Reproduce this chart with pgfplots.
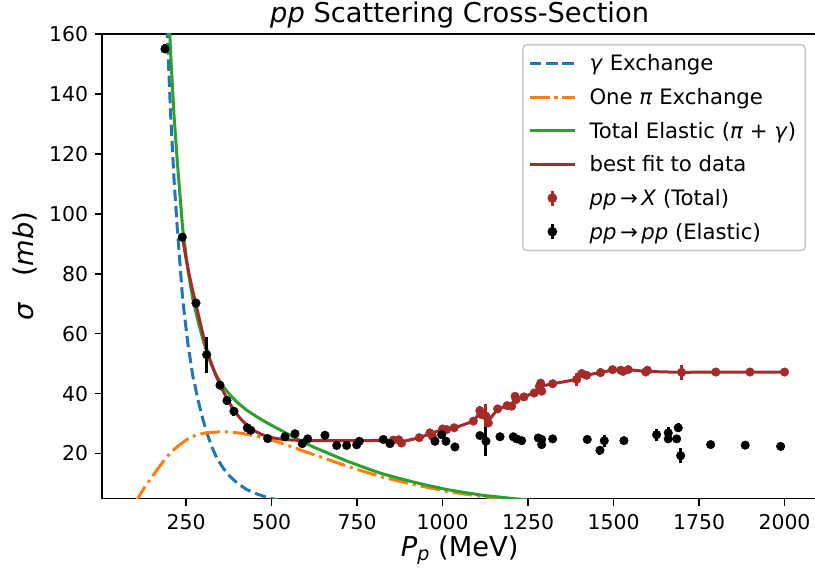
\documentclass[border=0pt]{standalone}
\usepackage{pgfplots}
\pgfplotsset{compat=1.18}
\usepackage{pgfplotstable}
\usepackage{fontspec}
\setmainfont{DejaVu Sans}
\definecolor{mplblue}{HTML}{1F77B4}
\definecolor{mplorange}{HTML}{FF7F0E}
\definecolor{mplgreen}{HTML}{2CA02C}
\definecolor{mplbrown}{HTML}{A52A2A}
\newcommand\lstrut{\rule[-4.5bp]{0pt}{20bp}}
\newcommand\lbox{\path[use as bounding box, draw=none, fill=none] (0bp,-8bp) rectangle (45bp,8bp);}

\pgfplotstableread{
x y
185 195
195 160
205 132.7
215 111
224.3 95.2
240 71.5
255 56.8
270 45.7
285.7 37.5
300 31.1
310 27.2
325 22.3
339.5 18.6
360 14.9
378 12.4
400 10.1
427 8.0
455 6.6
486 5.4
510 4.7
540 4.0
}\gammadata

\pgfplotstableread{
x y
100 3.4
110 5.2
125 8.1
144.5 11.3
160 13.7
183.4 17.4
205 20.4
232 23.0
255 24.9
281 26.3
310 26.9
344 27.2
378 27.2
415 26.7
456 25.8
490 24.8
525 23.6
570 21.8
622 19.7
670 17.8
720 15.8
770 14.0
817 12.4
865 11.0
914.5 9.7
960 8.6
1012 7.4
1065 6.5
1119 5.6
1180 4.9
1250 4.2
1350 3.4
}\pidata

\pgfplotstableread{
x y
185 212.6
195 179
205 153.1
215 132.4
224.3 117.5
240 95.1
255 81.7
270 71.4
285.7 63.9
300 57.8
310 54.1
325 49.35
339.5 45.8
360 42.15
378 39.6
400 37.05
427 34.5
455 32.4
486 30.3
510 28.8
540 27.0
570 25.15
622 22.2
670 19.9
720 17.5
770 15.4
817 13.5
865 11.96
914.5 10.5
960 9.3
1012 8.0
1065 7.0
1119 6.05
1180 5.3
1250 4.5
1350 3.7
}\totaldata

\pgfplotstableread{
x y
239 92.2
250 85
260 79.2
270 74
279 69.8
290 64.3
300 59.5
310 55.0
320 51.3
335 46.7
350 42.7
370 38.2
390 34.4
410 31.5
430 29.2
450 27.6
470 26.4
490 25.6
515 25.0
540 24.6
580 24.4
650 24.3
750 24.3
830 24.4
856 24.5
872 24.5
880 23.9
932 25.3
963 26.6
1000 28.0
1034 28.5
1090 30.8
1109 33.6
1127 32.2
1134 31.0
1161 34.7
1189 36.0
1202 36.2
1212 38.5
1238 38.9
1268 40.3
1285 42.4
1322 43.3
1392 44.7
1407 46.5
1421 46.2
1462 47.0
1497 47.9
1521 47.8
1543 48.0
1595 47.4
1699 47.1
1799 47.2
1899 47.2
2000 47.2
}\fitdata

\pgfplotstableread{
x y e
856 24.5 0.5
872 24.6 0.5
880 23.5 0.5
932 25.3 0.5
963 26.9 0.5
970 25.8 0.5
1000 28.2 0.5
1012 28.0 0.5
1034 28.6 0.5
1090 30.8 0.5
1109 34.3 1.5
1114 33.0 0.5
1127 32.5 4.0
1134 30.2 0.5
1161 34.9 0.5
1189 36.0 0.5
1202 35.8 0.5
1212 39.1 0.5
1215 38.0 0.5
1238 38.9 0.5
1268 40.2 0.5
1283 42.4 0.5
1287 43.5 0.5
1290 40.8 0.5
1322 43.3 0.5
1392 44.7 2.2
1407 46.7 0.5
1421 46.1 0.5
1462 47.0 1.5
1497 48.0 0.5
1521 47.8 0.5
1528 47.4 0.5
1543 48.0 0.5
1594 47.2 0.5
1599 47.8 0.5
1699 47.1 2.5
1799 47.2 0.5
1899 47.2 0.5
2000 47.2 0.5
}\totalpts

\pgfplotstableread{
x y e
188.3 155 1.5
238.9 92.2 0.5
279 70.2 0.5
310.3 53 6
349.2 42.8 0.8
369.6 37.7 1.5
390 34.1 1.5
429 28.6 0.8
439 27.8 0.5
488.6 25 0.5
539.2 25.6 0.5
568.5 26.6 0.5
589.8 23.3 1.2
605.6 24.9 0.5
656.2 26.1 1.0
690.4 22.7 0.5
719.6 22.7 0.8
748.9 22.9 0.8
756.5 24.1 0.8
826.6 24.7 0.5
846.2 23.3 0.5
977.8 24.1 0.5
997.4 26.3 0.8
1010 24.1 0.5
1036.3 22.2 1.3
1109.4 26.0 0.5
1127 24.1 4.8
1168 25.6 0.5
1206.8 25.6 0.5
1216.7 24.9 0.5
1231.3 24.3 0.5
1279.9 25.2 0.5
1289.8 24.7 0.5
1289.8 23.0 1.5
1322 24.9 0.5
1423.1 24.7 0.5
1460.3 21.1 1.5
1472.9 24.3 2.0
1530.4 24.3 0.5
1626 26.3 2.0
1660 26.9 1.8
1660 24.9 0.5
1684.6 24.9 0.5
1689.2 28.6 1.5
1696.2 19.3 2.5
1784 23.0 0.5
1885.1 22.8 0.5
1988.6 22.4 0.5
}\elasticpts

\begin{document}
\begin{tikzpicture}
\begin{axis}[
  scale only axis, width=714.7bp, height=464.5bp,
  xmin=5, xmax=2095, ymin=5, ymax=160,
  xtick={250,500,...,2000}, ytick={20,40,...,160},
  tick align=outside, tick pos=left,
  major tick length=7.5bp,
  major tick style={black, line width=1.6bp},
  axis line style={line width=1.6bp},
  /pgf/number format/assume math mode=true,
  /pgf/number format/1000 sep={},
  ticklabel style={font=\fontsize{20.5}{24}\selectfont},
  xticklabel style={anchor=base, yshift=-23.3bp},
  yticklabel style={anchor=east, inner xsep=0pt, xshift=-6.5bp},
  title={\textit{pp} Scattering Cross-Section},
  title style={font=\fontsize{27.4}{32}\selectfont, at={(axis description cs:0.5,1)}, anchor=base, yshift=5.3bp},
  xlabel={\textit{P}\raisebox{-4bp}{\fontsize{19.2}{22}\selectfont\textit{p}} (MeV)},
  xlabel style={font=\fontsize{27.4}{32}\selectfont, at={(axis description cs:0.5,-0.1242)}, anchor=base},
  ylabel={\textit{σ}\hspace{0.95em}(\textit{mb})},
  ylabel style={font=\fontsize{27.4}{32}\selectfont, at={(axis description cs:-0.0965,0.5)}, anchor=base},
  legend style={at={(1,1)}, anchor=north east, xshift=-11bp, yshift=-10bp,
    draw=black!20, line width=1.6bp, rounded corners=4bp, fill=white,
    font=\fontsize{21.3}{24}\selectfont, inner xsep=7bp, inner ysep=8bp,
    row sep=12bp, column sep=12.7bp, nodes={inner sep=2bp}},
  legend cell align=left,
]
\addplot[mplblue, line width=3bp, dash pattern=on 11.4bp off 4.9bp,
  legend image code/.code={\lbox\draw[mplblue, line width=3bp, dash pattern=on 11.4bp off 4.9bp] (0bp,0bp) -- (45bp,0bp);}]
  table[x=x,y=y] {\gammadata};
\addlegendentry{\lstrut\textit{γ} Exchange}
\addplot[mplorange, line width=3bp, dash pattern=on 19.7bp off 4.9bp on 3.1bp off 4.9bp,
  legend image code/.code={\lbox\draw[mplorange, line width=3bp, dash pattern=on 19.7bp off 4.9bp on 3.1bp off 4.9bp] (0bp,0bp) -- (45bp,0bp);}]
  table[x=x,y=y] {\pidata};
\addlegendentry{\lstrut One \textit{π} Exchange}
\addplot[mplgreen, line width=3bp,
  legend image code/.code={\lbox\draw[mplgreen, line width=3bp] (0bp,0bp) -- (45bp,0bp);}]
  table[x=x,y=y] {\totaldata};
\addlegendentry{\lstrut Total Elastic (\textit{π} + \textit{γ})}
\addplot[mplbrown, line width=3bp,
  legend image code/.code={\lbox\draw[mplbrown, line width=3bp] (0bp,0bp) -- (45bp,0bp);}]
  table[x=x,y=y] {\fitdata};
\addlegendentry{\lstrut best fit to data}
\addplot[only marks, mark=*, mark size=4.3bp, color=mplbrown, mark options={draw=mplbrown, fill=mplbrown},
  legend image code/.code={\lbox\draw[mplbrown, line width=3bp] (22.5bp,-7.5bp) -- (22.5bp,7.5bp); \fill[mplbrown] (22.5bp,0bp) circle (4bp);},
  error bars/.cd, y dir=both, y explicit, error mark=none, error bar style={line width=3bp, mplbrown}]
  table[x=x,y=y,y error=e] {\totalpts};
\addlegendentry{\lstrut\textit{pp}\,→\,\textit{X} (Total)}
\addplot[only marks, mark=*, mark size=4.3bp, color=black, mark options={draw=black, fill=black},
  legend image code/.code={\lbox\draw[black, line width=3bp] (22.5bp,-7.5bp) -- (22.5bp,7.5bp); \fill[black] (22.5bp,0bp) circle (4bp);},
  error bars/.cd, y dir=both, y explicit, error mark=none, error bar style={line width=3bp, black}]
  table[x=x,y=y,y error=e] {\elasticpts};
\addlegendentry{\lstrut\textit{pp}\,→\,\textit{pp} (Elastic)}
\coordinate (LL) at (rel axis cs:0,0);
\coordinate (UR) at (rel axis cs:1,1);
\end{axis}
\pgfresetboundingbox
\path[use as bounding box] ([shift={(-102.3bp,-74.5bp)}]LL) rectangle ([shift={(-2bp,34bp)}]UR);
\end{tikzpicture}
\end{document}
